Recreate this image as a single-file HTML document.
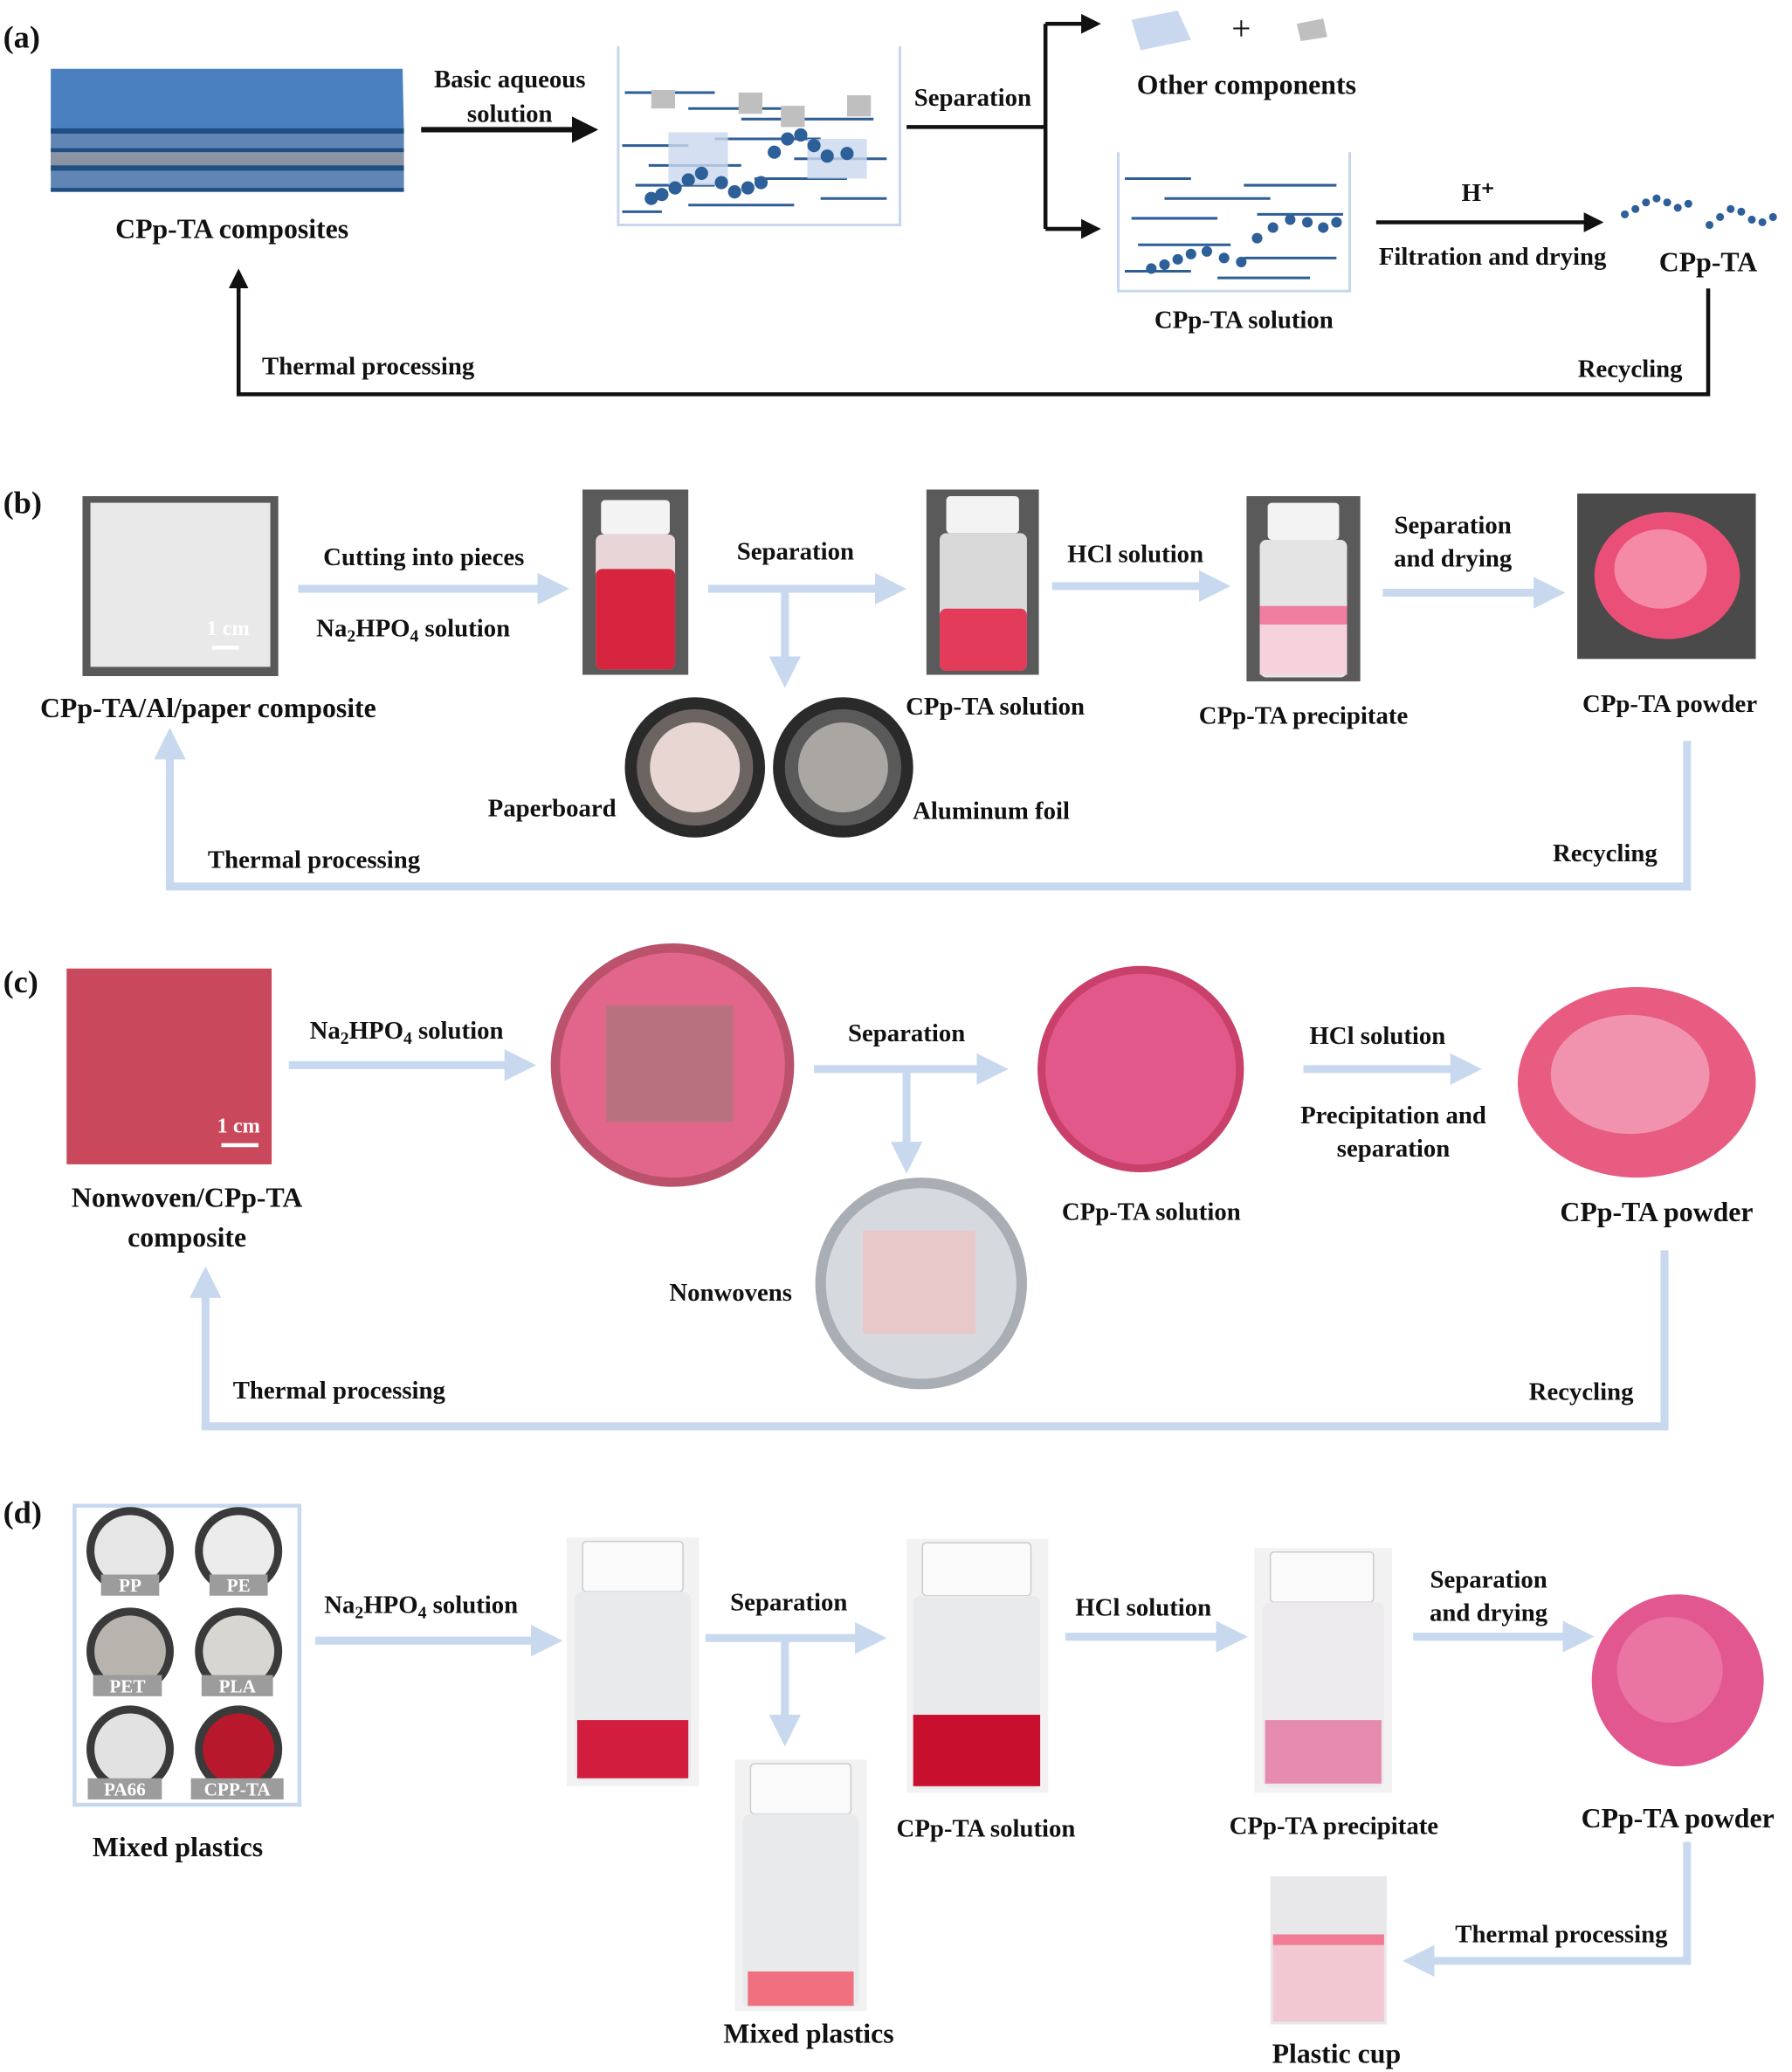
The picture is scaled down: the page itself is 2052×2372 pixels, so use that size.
<!DOCTYPE html>
<html><head><meta charset="utf-8"><style>
html,body{margin:0;padding:0;background:#fff}
svg{display:block}
text{font-family:"Liberation Serif",serif;font-weight:bold;fill:#111;font-size:19px;text-anchor:middle}
.lb{font-size:24px;text-anchor:start}
.big{font-size:21px}
</style></head><body>
<svg width="2052" height="2372" viewBox="0 0 1354 1566" xmlns="http://www.w3.org/2000/svg">
<defs>
<marker id="ab" markerWidth="5" markerHeight="5" refX="2" refY="2.5" orient="auto" markerUnits="strokeWidth"><path d="M0,0 L5,2.5 L0,5 Z" fill="#111"/></marker>
<marker id="al" markerWidth="4" markerHeight="4" refX="1.5" refY="2" orient="auto" markerUnits="strokeWidth"><path d="M0,0 L4,2 L0,4 Z" fill="#c8d9ef"/></marker>
<g id="vial">
<rect x="0" y="0" width="100" height="150" fill="#f4f4f4"/>
<rect x="28" y="8" width="44" height="26" rx="3" fill="#fafafa" stroke="#bbb"/>
<rect x="22" y="34" width="56" height="108" rx="6" fill="#e9ecee" stroke="#c9c9c9"/>
</g>
</defs>

<!-- (a) -->
<text class="lb" x="2" y="36">(a)</text>
<polygon points="38,52 304,52 305,100 38,100" fill="#4a80c0"/>
<rect x="38" y="97" width="267" height="48" fill="#5f86b5"/>
<rect x="38" y="97" width="267" height="4" fill="#1f4f82"/>
<rect x="38" y="112" width="267" height="3" fill="#1f4f82"/>
<rect x="38" y="115" width="267" height="10" fill="#8a94a3"/>
<rect x="38" y="125" width="267" height="4" fill="#1f4f82"/>
<rect x="38" y="142" width="267" height="3" fill="#1f4f82"/>
<text class="big" x="175" y="180">CPp-TA composites</text>
<line x1="318" y1="98" x2="440" y2="98" stroke="#111" stroke-width="4" marker-end="url(#ab)"/>
<text x="385" y="66">Basic aqueous</text><text x="385" y="92">solution</text>
<path d="M467,35 V170 H680 V35" fill="none" stroke="#c7d6ea" stroke-width="2"/>
<g stroke="#2f5e95" stroke-width="2">
<line x1="472" y1="70" x2="540" y2="70"/><line x1="520" y1="82" x2="600" y2="82"/><line x1="560" y1="90" x2="660" y2="90"/><line x1="470" y1="110" x2="520" y2="110"/><line x1="540" y1="105" x2="620" y2="105"/><line x1="490" y1="125" x2="560" y2="125"/><line x1="600" y1="120" x2="670" y2="120"/><line x1="480" y1="140" x2="540" y2="140"/><line x1="570" y1="135" x2="640" y2="135"/><line x1="520" y1="155" x2="600" y2="155"/><line x1="620" y1="150" x2="670" y2="150"/><line x1="470" y1="160" x2="500" y2="160"/>
</g>
<g fill="#bfbfbf"><rect x="492" y="68" width="18" height="14"/><rect x="558" y="70" width="18" height="16"/><rect x="590" y="80" width="18" height="16"/><rect x="640" y="72" width="18" height="16"/></g>
<rect x="505" y="100" width="45" height="40" fill="#c9d8ee" opacity=".8"/><rect x="610" y="105" width="45" height="30" fill="#c9d8ee" opacity=".8"/>
<g fill="#2d5f98"><circle cx="492" cy="150" r="5"/><circle cx="500" cy="147" r="5"/><circle cx="510" cy="142" r="5"/><circle cx="520" cy="136" r="5"/><circle cx="530" cy="131" r="5"/><circle cx="545" cy="138" r="5"/><circle cx="555" cy="145" r="5"/><circle cx="565" cy="142" r="5"/><circle cx="575" cy="138" r="5"/><circle cx="585" cy="115" r="5"/><circle cx="595" cy="105" r="5"/><circle cx="605" cy="102" r="5"/><circle cx="615" cy="110" r="5"/><circle cx="625" cy="118" r="5"/><circle cx="640" cy="116" r="5"/></g>
<text x="735" y="80">Separation</text>
<line x1="685" y1="96" x2="790" y2="96" stroke="#111" stroke-width="3"/>
<path d="M790,18 V173" stroke="#111" stroke-width="3" fill="none"/>
<line x1="790" y1="18" x2="823" y2="18" stroke="#111" stroke-width="3" marker-end="url(#ab)"/>
<line x1="790" y1="173" x2="823" y2="173" stroke="#111" stroke-width="3" marker-end="url(#ab)"/>
<polygon points="855,15 890,8 900,30 862,38" fill="#c9d8ee"/>
<text x="938" y="30" style="font-weight:normal;font-size:26px">+</text>
<polygon points="980,18 1000,14 1003,28 983,31" fill="#bfbfbf"/>
<text class="big" x="942" y="71">Other components</text>
<path d="M845,115 V220 H1020 V115" fill="none" stroke="#c7d6ea" stroke-width="2"/>
<g stroke="#2f5e95" stroke-width="2">
<line x1="850" y1="135" x2="900" y2="135"/><line x1="880" y1="150" x2="960" y2="150"/><line x1="940" y1="140" x2="1010" y2="140"/><line x1="855" y1="165" x2="920" y2="165"/><line x1="950" y1="162" x2="1015" y2="162"/><line x1="860" y1="185" x2="930" y2="185"/><line x1="940" y1="195" x2="1010" y2="195"/><line x1="850" y1="205" x2="900" y2="205"/><line x1="920" y1="210" x2="990" y2="210"/>
</g>
<g fill="#2d5f98"><circle cx="870" cy="203" r="4"/><circle cx="880" cy="200" r="4"/><circle cx="890" cy="196" r="4"/><circle cx="900" cy="192" r="4"/><circle cx="912" cy="190" r="4"/><circle cx="925" cy="195" r="4"/><circle cx="938" cy="198" r="4"/><circle cx="950" cy="180" r="4"/><circle cx="962" cy="172" r="4"/><circle cx="975" cy="166" r="4"/><circle cx="988" cy="168" r="4"/><circle cx="1000" cy="172" r="4"/><circle cx="1010" cy="168" r="4"/></g>
<text x="940" y="248">CPp-TA solution</text>
<line x1="1040" y1="168" x2="1203" y2="168" stroke="#111" stroke-width="3" marker-end="url(#ab)"/>
<text x="1117" y="152">H⁺</text>
<text x="1128" y="200">Filtration and drying</text>
<g fill="#2d5f98"><circle cx="1228" cy="162" r="3"/><circle cx="1236" cy="158" r="3"/><circle cx="1244" cy="153" r="3"/><circle cx="1252" cy="150" r="3"/><circle cx="1260" cy="153" r="3"/><circle cx="1268" cy="157" r="3"/><circle cx="1276" cy="154" r="3"/><circle cx="1292" cy="170" r="3"/><circle cx="1300" cy="164" r="3"/><circle cx="1308" cy="158" r="3"/><circle cx="1316" cy="160" r="3"/><circle cx="1324" cy="166" r="3"/><circle cx="1332" cy="168" r="3"/><circle cx="1340" cy="164" r="3"/></g>
<text class="big" x="1291" y="205">CPp-TA</text>
<path d="M1291,218 V298 H180 V212" fill="none" stroke="#111" stroke-width="3" marker-end="url(#ab)"/>
<text x="278" y="283">Thermal processing</text>
<text x="1232" y="285">Recycling</text>

<!-- (b) -->
<text class="lb" x="2" y="388">(b)</text>
<rect x="62" y="375" width="148" height="136" fill="#595959"/>
<rect x="68" y="380" width="136" height="124" fill="#e9e9e9"/>
<text x="172" y="480" style="fill:#fff;font-size:16px">1 cm</text><rect x="160" y="488" width="20" height="3" fill="#fff"/>
<text class="big" x="157" y="542">CPp-TA/Al/paper  composite</text>
<g stroke="#c8d9ef" stroke-width="6" fill="none">
<line x1="225" y1="445" x2="415" y2="445" marker-end="url(#al)"/>
<line x1="535" y1="445" x2="670" y2="445" marker-end="url(#al)"/><line x1="593" y1="445" x2="593" y2="505" marker-end="url(#al)"/>
<line x1="795" y1="443" x2="915" y2="443" marker-end="url(#al)"/>
<line x1="1045" y1="448" x2="1168" y2="448" marker-end="url(#al)"/>
<path d="M1275,560 V670 H128 V565" marker-end="url(#al)"/>
</g>
<text x="320" y="427">Cutting into pieces</text>
<text x="312" y="481">Na<tspan font-size="13" dy="4">2</tspan><tspan dy="-4">HPO</tspan><tspan font-size="13" dy="4">4</tspan><tspan dy="-4"> solution</tspan></text>
<rect x="440" y="370" width="80" height="140" fill="#5a5a5a"/>
<rect x="454" y="378" width="52" height="26" rx="3" fill="#f3f3f3"/>
<rect x="450" y="404" width="60" height="102" rx="5" fill="#e7d5d8"/>
<rect x="450" y="430" width="60" height="76" rx="5" fill="#d7243f"/>
<text x="601" y="423">Separation</text>
<rect x="700" y="370" width="85" height="140" fill="#5a5a5a"/>
<rect x="715" y="375" width="55" height="28" rx="3" fill="#f3f3f3"/>
<rect x="710" y="403" width="66" height="104" rx="5" fill="#d9d9d9"/>
<rect x="710" y="460" width="66" height="47" rx="5" fill="#e33b5a"/>
<circle cx="525" cy="580" r="53" fill="#2a2a2a"/><circle cx="525" cy="580" r="44" fill="#6b6461"/><circle cx="525" cy="580" r="34" fill="#e8d6d3"/>
<circle cx="637" cy="580" r="53" fill="#2a2a2a"/><circle cx="637" cy="580" r="44" fill="#5a5a5a"/><circle cx="637" cy="580" r="34" fill="#aaa7a3"/>
<text x="417" y="617">Paperboard</text>
<text x="749" y="619">Aluminum foil</text>
<text x="752" y="540">CPp-TA solution</text>
<text x="858" y="425">HCl solution</text>
<rect x="942" y="375" width="86" height="140" fill="#5a5a5a"/>
<rect x="958" y="380" width="54" height="28" rx="3" fill="#f3f3f3"/>
<rect x="952" y="408" width="66" height="104" rx="5" fill="#e4e4e4"/>
<rect x="952" y="458" width="66" height="14" fill="#f07ea0"/><rect x="952" y="472" width="66" height="38" fill="#f6d2dc"/>
<text x="985" y="547">CPp-TA precipitate</text>
<text x="1098" y="403">Separation</text><text x="1098" y="428">and drying</text>
<rect x="1192" y="373" width="135" height="125" fill="#4a4a4a"/>
<ellipse cx="1260" cy="435" rx="55" ry="48" fill="#ea4f78"/><ellipse cx="1255" cy="430" rx="35" ry="30" fill="#f58aa6"/>
<text x="1262" y="538">CPp-TA powder</text>
<text x="237" y="656">Thermal processing</text>
<text x="1213" y="651">Recycling</text>

<!-- (c) -->
<text class="lb" x="2" y="750">(c)</text>
<rect x="50" y="732" width="155" height="148" fill="#c9485c"/>
<text x="180" y="856" style="fill:#fff;font-size:16px">1 cm</text><rect x="167" y="864" width="28" height="3" fill="#fff"/>
<text class="big" x="141" y="912">Nonwoven/CPp-TA</text><text class="big" x="141" y="942">composite</text>
<g stroke="#c8d9ef" stroke-width="6" fill="none">
<line x1="218" y1="805" x2="390" y2="805" marker-end="url(#al)"/>
<line x1="615" y1="808" x2="747" y2="808" marker-end="url(#al)"/><line x1="685" y1="808" x2="685" y2="872" marker-end="url(#al)"/>
<line x1="985" y1="808" x2="1105" y2="808" marker-end="url(#al)"/>
<path d="M1258,945 V1078 H155 V972" marker-end="url(#al)"/>
</g>
<text x="307" y="785">Na<tspan font-size="13" dy="4">2</tspan><tspan dy="-4">HPO</tspan><tspan font-size="13" dy="4">4</tspan><tspan dy="-4"> solution</tspan></text>
<circle cx="508" cy="805" r="92" fill="#b9526a"/><circle cx="508" cy="805" r="85" fill="#e2668c"/>
<rect x="458" y="760" width="96" height="88" fill="#b8727f"/>
<text x="685" y="787">Separation</text>
<circle cx="862" cy="808" r="78" fill="#c9406a"/><circle cx="862" cy="808" r="72" fill="#e2588a"/>
<text x="870" y="922">CPp-TA solution</text>
<circle cx="696" cy="970" r="80" fill="#a9aeb4"/><circle cx="696" cy="970" r="72" fill="#d6dadf"/>
<rect x="652" y="930" width="85" height="78" fill="#e8c8c8"/>
<text x="552" y="983">Nonwovens</text>
<text x="1041" y="789">HCl solution</text>
<text x="1053" y="849">Precipitation and</text><text x="1053" y="874">separation</text>
<ellipse cx="1237" cy="818" rx="90" ry="72" fill="#e85c82"/><ellipse cx="1232" cy="812" rx="60" ry="45" fill="#f193ae"/>
<text class="big" x="1252" y="923">CPp-TA powder</text>
<text x="256" y="1057">Thermal processing</text>
<text x="1195" y="1058">Recycling</text>

<!-- (d) -->
<text class="lb" x="2" y="1151">(d)</text>
<rect x="56" y="1138" width="170" height="226" fill="#fff" stroke="#c8d9ef" stroke-width="3"/>
<g>
<circle cx="98" cy="1172" r="33" fill="#3a3a3a"/><circle cx="98" cy="1172" r="27" fill="#e6e6e6"/>
<circle cx="180" cy="1172" r="33" fill="#3a3a3a"/><circle cx="180" cy="1172" r="27" fill="#ececec"/>
<circle cx="98" cy="1248" r="33" fill="#3a3a3a"/><circle cx="98" cy="1248" r="27" fill="#b8b4ad"/>
<circle cx="180" cy="1248" r="33" fill="#3a3a3a"/><circle cx="180" cy="1248" r="27" fill="#d8d6d0"/>
<circle cx="98" cy="1322" r="33" fill="#3a3a3a"/><circle cx="98" cy="1322" r="27" fill="#e2e2e2"/>
<circle cx="180" cy="1322" r="33" fill="#3a3a3a"/><circle cx="180" cy="1322" r="27" fill="#b8182c"/>
</g>
<g fill="#9c9c9c"><rect x="76" y="1190" width="44" height="16"/><rect x="158" y="1190" width="44" height="16"/><rect x="70" y="1266" width="52" height="16"/><rect x="152" y="1266" width="54" height="16"/><rect x="66" y="1344" width="56" height="16"/><rect x="144" y="1344" width="70" height="16"/></g>
<g style="fill:#fff;font-size:14px"><text x="98" y="1203" style="fill:#fff;font-size:14px">PP</text><text x="180" y="1203" style="fill:#fff;font-size:14px">PE</text><text x="96" y="1279" style="fill:#fff;font-size:14px">PET</text><text x="179" y="1279" style="fill:#fff;font-size:14px">PLA</text><text x="94" y="1357" style="fill:#fff;font-size:14px">PA66</text><text x="179" y="1357" style="fill:#fff;font-size:14px">CPP-TA</text></g>
<text class="big" x="134" y="1403">Mixed plastics</text>
<g stroke="#c8d9ef" stroke-width="6" fill="none">
<line x1="238" y1="1240" x2="410" y2="1240" marker-end="url(#al)"/>
<line x1="533" y1="1238" x2="655" y2="1238" marker-end="url(#al)"/><line x1="593" y1="1238" x2="593" y2="1305" marker-end="url(#al)"/>
<line x1="805" y1="1237" x2="928" y2="1237" marker-end="url(#al)"/>
<line x1="1068" y1="1237" x2="1190" y2="1237" marker-end="url(#al)"/>
<path d="M1275,1392 V1482 H1075" marker-end="url(#al)"/>
</g>
<text x="318" y="1219">Na<tspan font-size="13" dy="4">2</tspan><tspan dy="-4">HPO</tspan><tspan font-size="13" dy="4">4</tspan><tspan dy="-4"> solution</tspan></text>
<rect x="428" y="1162" width="100" height="188" fill="#f2f2f2"/>
<rect x="440" y="1165" width="76" height="38" rx="3" fill="#fafafa" stroke="#ccc"/>
<rect x="434" y="1203" width="88" height="143" rx="6" fill="#e8eaec"/>
<rect x="436" y="1300" width="84" height="44" fill="#d21d3e"/>
<text x="596" y="1217">Separation</text>
<rect x="555" y="1330" width="100" height="190" fill="#f2f2f2"/>
<rect x="567" y="1333" width="76" height="38" rx="3" fill="#fafafa" stroke="#ccc"/>
<rect x="561" y="1371" width="88" height="146" rx="6" fill="#e8eaec"/>
<rect x="565" y="1490" width="80" height="26" fill="#f07080"/>
<text class="big" x="611" y="1544">Mixed plastics</text>
<rect x="685" y="1163" width="107" height="192" fill="#f2f2f2"/>
<rect x="697" y="1166" width="82" height="40" rx="3" fill="#fafafa" stroke="#ccc"/>
<rect x="690" y="1206" width="96" height="146" rx="6" fill="#e8eaec"/>
<rect x="690" y="1296" width="96" height="54" fill="#c8102e"/>
<text x="745" y="1388">CPp-TA solution</text>
<text x="864" y="1221">HCl solution</text>
<rect x="948" y="1170" width="104" height="185" fill="#f2f2f2"/>
<rect x="960" y="1173" width="78" height="38" rx="3" fill="#fafafa" stroke="#ccc"/>
<rect x="954" y="1211" width="92" height="140" rx="6" fill="#eceaec"/>
<rect x="956" y="1300" width="88" height="48" fill="#e58bb0"/>
<text x="1008" y="1386">CPp-TA precipitate</text>
<text x="1125" y="1200">Separation</text><text x="1125" y="1225">and drying</text>
<circle cx="1268" cy="1270" r="65" fill="#e25790"/><circle cx="1262" cy="1262" r="40" fill="#ea74a2"/>
<text class="big" x="1268" y="1381">CPp-TA powder</text>
<text x="1180" y="1468">Thermal processing</text>
<rect x="960" y="1418" width="88" height="112" fill="#e8e8ea"/>
<rect x="962" y="1468" width="84" height="60" fill="#f2c9d2"/><rect x="962" y="1462" width="84" height="8" fill="#f27b96"/>
<text class="big" x="1010" y="1559">Plastic cup</text>
</svg>
</body></html>
